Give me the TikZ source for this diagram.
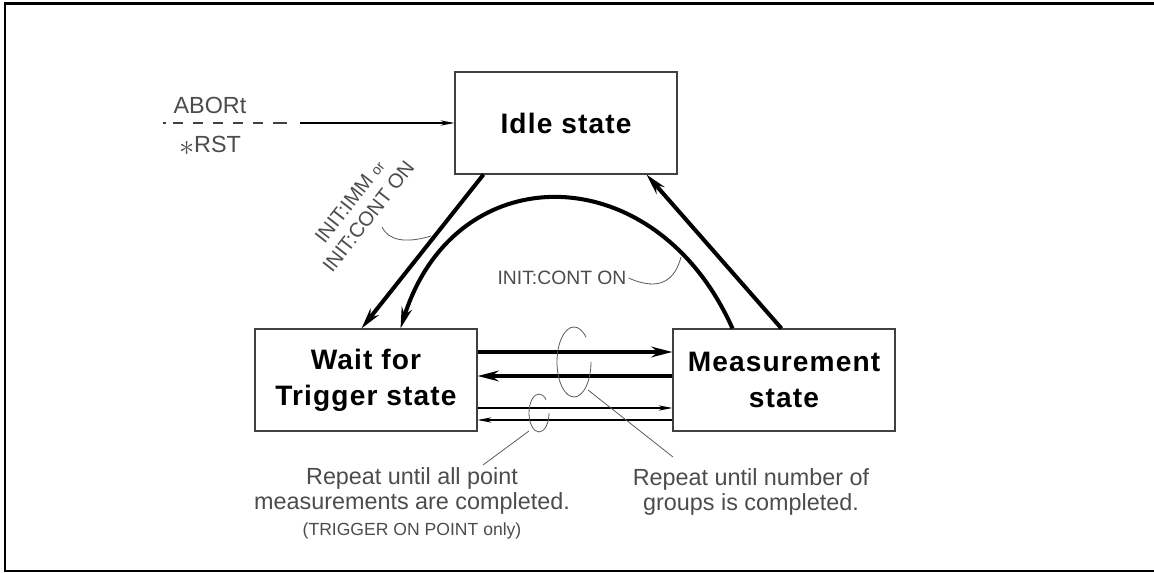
\documentclass[tikz,border=0pt]{standalone}
\usepackage{fontspec}
\setmainfont{Liberation Sans}
\usetikzlibrary{arrows.meta,calc}

\tikzset{
  state/.style={draw=black!75, line width=0.6pt, minimum width=4.44cm, minimum height=2.04cm,
    inner sep=0pt, align=center, font=\bfseries\fontsize{16}{20.5}\selectfont\addfontfeatures{LetterSpace=4}},
  bigflow/.style={line width=2.3pt, -{Stealth[length=12pt,width=6pt]}},
  smallflow/.style={line width=0.6pt, -{Stealth[length=8pt,width=3pt]}},
  note/.style={text=black!70, font=\fontsize{13.3}{14.5}\selectfont, inner sep=1pt},
  leader/.style={draw=black!65, line width=0.45pt}
}

\begin{document}
\begin{tikzpicture}[x=0.02cm, y=-0.02cm]
\useasboundingbox (0,0) rectangle (1154,573);
% frame
\draw[line width=1.7pt] (1154,4) -- (5,4) -- (5,571) -- (1154,571);

% the three states
\node[state] (idle) at (566,123) {Idle state};
\node[state] (wait) at (366,380) {Wait for\\Trigger state};
\node[state] (meas) at (784,380) {Measurement\\state};

% ABORt / *RST into idle
\coordinate (rstin) at (163,123);
\coordinate (rstmid) at (300,123);
\draw[line width=0.6pt, black!75, dash pattern=on 1.7pt off 4pt on 5.7pt off 5.7pt on 5.7pt off 5.7pt on 5.7pt off 5.7pt on 5.7pt off 5.7pt on 5.7pt off 5.7pt on 8pt off 20pt] (rstin) -- (rstmid);
\draw[smallflow] (rstmid) -- (idle.west);
\node[note] (abort) at (210,105) {ABORt};
\node[note] (rst) at (210,146) {\raisebox{-1.5pt}{\fontsize{19}{19}\selectfont$\ast$}RST};

% end points on the boxes
\coordinate (ibot1) at ($(idle.south west)+(29,0)$);
\coordinate (ibot2) at ($(idle.south west)+(192,0)$);
\coordinate (wtop1) at ($(wait.north west)+(107,0)$);
\coordinate (wtop2) at ($(wait.north west)+(146,0)$);
\coordinate (mtop1) at ($(meas.north west)+(60,0)$);
\coordinate (mtop2) at ($(meas.north west)+(109,0)$);

\draw[bigflow] (ibot1) -- (wtop1);
\draw[bigflow] (mtop2) -- (ibot2);
\draw[bigflow] (mtop1) .. controls (655,155) and (455,155) .. (wtop2);

% between wait and measurement
\draw[bigflow] ($(wait.east)+(0,-28)$) -- ($(meas.west)+(0,-28)$);
\draw[bigflow] ($(meas.west)+(0,-4)$) -- ($(wait.east)+(0,-4)$);
\draw[smallflow] ($(wait.east)+(0,28)$) -- ($(meas.west)+(0,28)$);
\draw[smallflow] ($(meas.west)+(0,40)$) -- ($(wait.east)+(0,40)$);

% labels on the arrows
\node[note, rotate=52, align=center, font=\fontsize{11.5}{13.6}\selectfont] (immnote) at (359,209)
  {INIT:IMM {\fontsize{8}{8}\selectfont or}\\INIT:CONT ON};
\coordinate (immtail) at (382,227);
\coordinate (immhead) at (431,236);
\draw[leader] (immtail) .. controls (388,240) and (405,244) .. (immhead);

\node[note, font=\fontsize{11}{13}\selectfont] (contnote) at (562,278) {INIT:CONT ON};
\coordinate (conthead) at (681,257);
\draw[leader] (contnote.east) .. controls (660,292) and (675,280) .. (conthead);

% loops
\coordinate (loopA) at (574,362);
\coordinate (loopB) at (539,413);
\draw[leader] ([shift={(45:0.34cm and 0.7cm)}]loopA) arc[start angle=45, end angle=360, x radius=0.34cm, y radius=0.7cm];
\draw[leader] ([shift={(45:0.2cm and 0.38cm)}]loopB) arc[start angle=45, end angle=360, x radius=0.2cm, y radius=0.38cm];

\node[note, align=center] (grpnote) at (751,492) {Repeat until number of\\groups is completed.};
\node[note, align=center] (ptnote) at (412,503)
  {Repeat until all point\\measurements are completed.\\{\fontsize{10}{12}\selectfont(TRIGGER ON POINT only)}};

\coordinate (loopAtail) at (588,390);
\coordinate (grptip) at (673,457);
\coordinate (loopBtail) at (529,431);
\coordinate (pttip) at (483,465);
\draw[leader] (loopAtail) -- (grptip);
\draw[leader] (loopBtail) -- (pttip);
\end{tikzpicture}
\end{document}
